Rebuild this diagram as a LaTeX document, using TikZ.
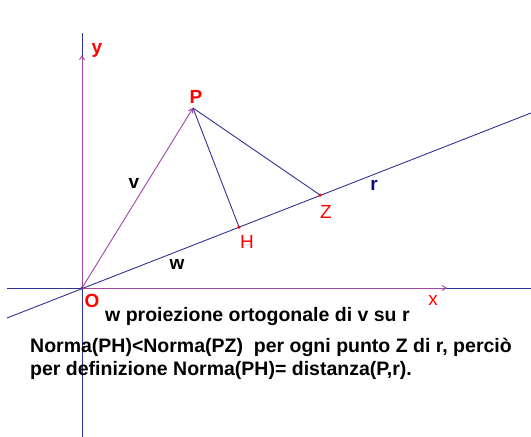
\documentclass[tikz,border=0pt]{standalone}
\usepackage{fontspec}
\setmainfont{Liberation Sans}
\usetikzlibrary{arrows.meta}
\definecolor{lblue}{RGB}{50,50,150}
\definecolor{lpurp}{RGB}{160,70,170}
\definecolor{lred}{RGB}{255,0,0}
\definecolor{lnavy}{RGB}{10,10,120}
\tikzset{
  bl/.style={draw=lblue,line width=0.9pt},
  pu/.style={draw=lpurp,line width=0.9pt},
  arr/.style={-{Straight Barb[length=4pt,width=5pt]}},
  plab/.style={text=lred,font=\fontsize{19}{19}\selectfont,inner sep=0pt},
  pblab/.style={text=lred,font=\bfseries\fontsize{19}{19}\selectfont,inner sep=0pt},
  vlab/.style={text=black,font=\bfseries\fontsize{19}{19}\selectfont,inner sep=0pt},
  txt/.style={text=black,font=\bfseries\fontsize{19.5}{22}\selectfont,inner sep=0pt,anchor=west},
  dot/.style={circle,fill=#1,inner sep=0pt,minimum size=3.5pt}
}
\begin{document}
\begin{tikzpicture}[x=1pt,y=-1pt]
\useasboundingbox (0,0) rectangle (531,437);
% points
\coordinate (O) at (82,288);
\coordinate (P) at (193,108);
\coordinate (H) at (239,227);
\coordinate (Z) at (320,195);
\coordinate (Ytop) at (82,33);
\coordinate (Ybot) at (82,437);
\coordinate (Yarr) at (82,55);
\coordinate (Xl) at (7,288);
\coordinate (Xr) at (531,288);
\coordinate (Xarr) at (447,288);
\coordinate (Rl) at (7,318);
\coordinate (Rr) at (531,113);
% axes (blue)
\draw[bl] (Ytop) -- (Ybot);
\draw[bl] (Xl) -- (Xr);
% line r
\draw[bl] (Rl) -- (Rr);
% unit vectors (purple)
\draw[pu,arr] (O) -- (Yarr);
\draw[pu,arr] (O) -- (Xarr);
% vector v
\draw[pu,arr] (O) -- (P);
% segments
\draw[bl] (P) -- (H);
\draw[bl] (P) -- (Z);
% dots
\node[dot=lred] (h) at (H) {};
\node[dot=lred] (z) at (Z) {};
\node[dot=lpurp!70!black] (o) at (O) {};
% labels
\node[pblab] (ly) at (97,50) {y};
\node[pblab] (lp) at (196,97) {P};
\node[plab] (lh) at (247,242) {H};
\node[plab] (lz) at (326,212) {Z};
\node[pblab] (lo) at (92,301) {O};
\node[plab] (lx) at (433,300) {x};
\node[vlab] (lv) at (134,183) {v};
\node[vlab] (lw) at (177,264) {w};
\node[vlab,text=lnavy] (lr) at (374,185) {r};
% texts
\node[txt] (t1) at (105,316) {w proiezione ortogonale di v su r};
\node[txt] (t2) at (30,347) {Norma(PH)<Norma(PZ)\ \ per ogni punto Z di r, perciò};
\node[txt] (t3) at (30,370) {per definizione Norma(PH)= distanza(P,r).};
\end{tikzpicture}
\end{document}
